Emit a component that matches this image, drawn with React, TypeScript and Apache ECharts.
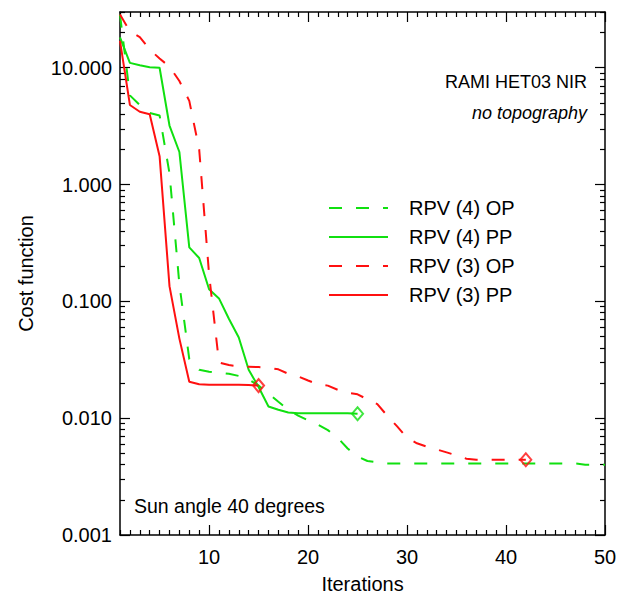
import React, { useEffect, useRef } from 'react';
import * as echarts from 'echarts';

const iterMin = 1;
const iterMax = 50;
const costMin = 0.001;
const costMax = 30;
const xTickLabels = [10, 20, 30, 40, 50];
const yTickLabels = [0.001, 0.01, 0.1, 1, 10];

const seriesNames = ['RPV (4) OP', 'RPV (4) PP', 'RPV (3) OP', 'RPV (3) PP'];

// cost function per iteration (iteration = index + 1)
const rpv4OP = [
  28.5, 5.8, 4.8, 4.1, 3.9, 1.25, 0.14, 0.032, 0.026, 0.025,
  0.0245, 0.024, 0.023, 0.0215, 0.019, 0.0162, 0.0138, 0.0118, 0.0105, 0.0096,
  0.0088, 0.0079, 0.0068, 0.0055, 0.0047, 0.0043, 0.0042, 0.0041, 0.0041, 0.0041,
  0.0041, 0.0041, 0.0041, 0.0041, 0.0041, 0.0041, 0.0041, 0.0041, 0.0041, 0.0041,
  0.0041, 0.0041, 0.0041, 0.0041, 0.0041, 0.0041, 0.0041, 0.004, 0.004, 0.004,
];
const rpv4PP = [
  18.2, 11.0, 10.5, 10.1, 10.0, 3.2, 1.9, 0.29, 0.235, 0.127,
  0.106, 0.071, 0.049, 0.026, 0.0185, 0.0126, 0.0118, 0.0112, 0.011, 0.011,
  0.011, 0.011, 0.011, 0.011, 0.0109,
];
const rpv3OP = [
  28.5, 20.5, 18.3, 14.3, 12.0, 10.2, 7.7, 5.2, 2.0, 0.17,
  0.030, 0.0285, 0.0278, 0.0276, 0.0274, 0.027, 0.0262, 0.024, 0.0228, 0.021,
  0.0195, 0.019, 0.0175, 0.0165, 0.016, 0.0145, 0.0132, 0.0105, 0.0085, 0.0068,
  0.0061, 0.0057, 0.0054, 0.0051, 0.0048, 0.0045, 0.0044, 0.0044, 0.0044, 0.0044,
  0.0044, 0.0044,
];
const rpv3PP = [
  17, 4.8, 4.2, 4.0, 1.75, 0.135, 0.048, 0.0205, 0.0195, 0.0193,
  0.0193, 0.0193, 0.0193, 0.0192, 0.019,
];

const FONT = 'Liberation Sans, Arial, Helvetica, sans-serif';
const GREEN = '#10e010';
const RED = '#ff1010';
const DASH = [13, 14];

const xMinor: number[] = [];
for (let i = iterMin; i <= iterMax; i++) if (i % 10 !== 0) xMinor.push(i);
const yMinor: number[] = [];
for (let d = -3; d <= 1; d++) {
  for (let m = 2; m <= 9; m++) {
    const v = Number((m * Math.pow(10, d)).toPrecision(3));
    if (v <= costMax) yMinor.push(v);
  }
}

const lineSt = { color: '#000', width: 1.5 };

function xAxisDef(position: string, major: boolean) {
  return {
    type: 'value',
    min: iterMin,
    max: iterMax,
    position,
    axisLine: { show: major, onZero: false, lineStyle: lineSt },
    axisTick: {
      show: true,
      inside: true,
      length: major ? 10 : 5,
      customValues: major ? xTickLabels : xMinor,
      lineStyle: { color: '#000', width: 1.2 },
    },
    axisLabel: major && position === 'bottom'
      ? { show: true, customValues: xTickLabels, fontSize: 20, color: '#000', fontFamily: FONT, margin: 12 }
      : { show: false },
    splitLine: { show: false },
    ...(major && position === 'bottom'
      ? {
          name: 'Iterations',
          nameLocation: 'middle',
          nameGap: 39,
          nameTextStyle: { fontSize: 20, color: '#000', fontFamily: FONT },
        }
      : {}),
  };
}

function yAxisDef(position: string, major: boolean) {
  return {
    type: 'log',
    logBase: 10,
    min: costMin,
    max: costMax,
    position,
    axisLine: { show: major, onZero: false, lineStyle: lineSt },
    axisTick: {
      show: true,
      inside: true,
      length: major ? 10 : 5,
      customValues: major ? yTickLabels : yMinor,
      lineStyle: { color: '#000', width: 1.2 },
    },
    axisLabel: major && position === 'left'
      ? {
          show: true,
          customValues: yTickLabels,
          fontSize: 20,
          color: '#000',
          fontFamily: FONT,
          margin: 8,
          formatter: (v: number) => Number(v).toFixed(3),
        }
      : { show: false },
    splitLine: { show: false },
    minorTick: { show: false },
    ...(major && position === 'left'
      ? {
          name: 'Cost function',
          nameLocation: 'middle',
          nameGap: 84,
          nameRotate: 90,
          nameTextStyle: { fontSize: 20, color: '#000', fontFamily: FONT },
        }
      : {}),
  };
}

function lineSeries(name: string, data: number[], color: string, dashed: boolean) {
  return {
    name,
    type: 'line',
    xAxisIndex: 0,
    yAxisIndex: 0,
    data: data.map((v, i) => [i + 1, v]),
    symbol: 'none',
    showSymbol: false,
    itemStyle: { color },
    lineStyle: { color, width: 2, type: dashed ? DASH : 'solid' },
    z: 3,
  };
}

function endMarker(data: number[], color: string) {
  return {
    type: 'scatter',
    xAxisIndex: 0,
    yAxisIndex: 0,
    symbol: 'diamond',
    symbolSize: [11, 13],
    data: [[data.length, data[data.length - 1]]],
    itemStyle: { color: 'rgba(255,255,255,0)', borderColor: color, borderWidth: 2 },
    z: 4,
    silent: true,
  };
}

export default function App() {
  const ref = useRef<HTMLDivElement>(null);
  useEffect(() => {
    if (!ref.current) return;
    const chart = echarts.init(ref.current, undefined, { renderer: 'svg' });
    chart.setOption({
      animation: false,
      backgroundColor: '#fff',
      textStyle: { fontFamily: FONT },
      grid: { left: 120, right: 27, top: 12, bottom: 61, containLabel: false, outerBoundsMode: 'none' },
      xAxis: [
        xAxisDef('bottom', true),
        xAxisDef('bottom', false),
        xAxisDef('top', true),
        xAxisDef('top', false),
      ],
      yAxis: [
        yAxisDef('left', true),
        yAxisDef('left', false),
        yAxisDef('right', true),
        yAxisDef('right', false),
      ],
      legend: {
        data: seriesNames,
        orient: 'vertical',
        left: 328,
        top: 198,
        padding: 0,
        itemWidth: 59,
        itemHeight: 14,
        itemGap: 9,
        itemStyle: { opacity: 0 },
        textStyle: { fontSize: 20, color: '#000', fontFamily: FONT, padding: [0, 0, 0, 16] },
      },
      series: [
        lineSeries(seriesNames[0], rpv4OP, GREEN, true),
        lineSeries(seriesNames[1], rpv4PP, GREEN, false),
        lineSeries(seriesNames[2], rpv3OP, RED, true),
        lineSeries(seriesNames[3], rpv3PP, RED, false),
        endMarker(rpv3PP, RED),
        endMarker(rpv4PP, GREEN),
        endMarker(rpv3OP, RED),
      ],
      graphic: [
        {
          type: 'text',
          x: 587,
          y: 82,
          style: {
            text: 'RAMI HET03 NIR',
            font: '18px ' + FONT,
            fill: '#000',
            align: 'right',
            textAlign: 'right',
            verticalAlign: 'middle',
            textVerticalAlign: 'middle',
          },
        },
        {
          type: 'text',
          x: 587,
          y: 113,
          style: {
            text: 'no topography',
            font: 'italic 18px ' + FONT,
            fill: '#000',
            align: 'right',
            textAlign: 'right',
            verticalAlign: 'middle',
            textVerticalAlign: 'middle',
          },
        },
        {
          type: 'text',
          x: 134,
          y: 506,
          style: {
            text: 'Sun angle 40 degrees',
            font: '19.5px ' + FONT,
            fill: '#000',
            align: 'left',
            textAlign: 'left',
            verticalAlign: 'middle',
            textVerticalAlign: 'middle',
          },
        },
      ],
    });
    return () => chart.dispose();
  }, []);
  return <div ref={ref} style={{ width: 632, height: 596, position: 'absolute', left: 0, top: 0 }} />;
}
